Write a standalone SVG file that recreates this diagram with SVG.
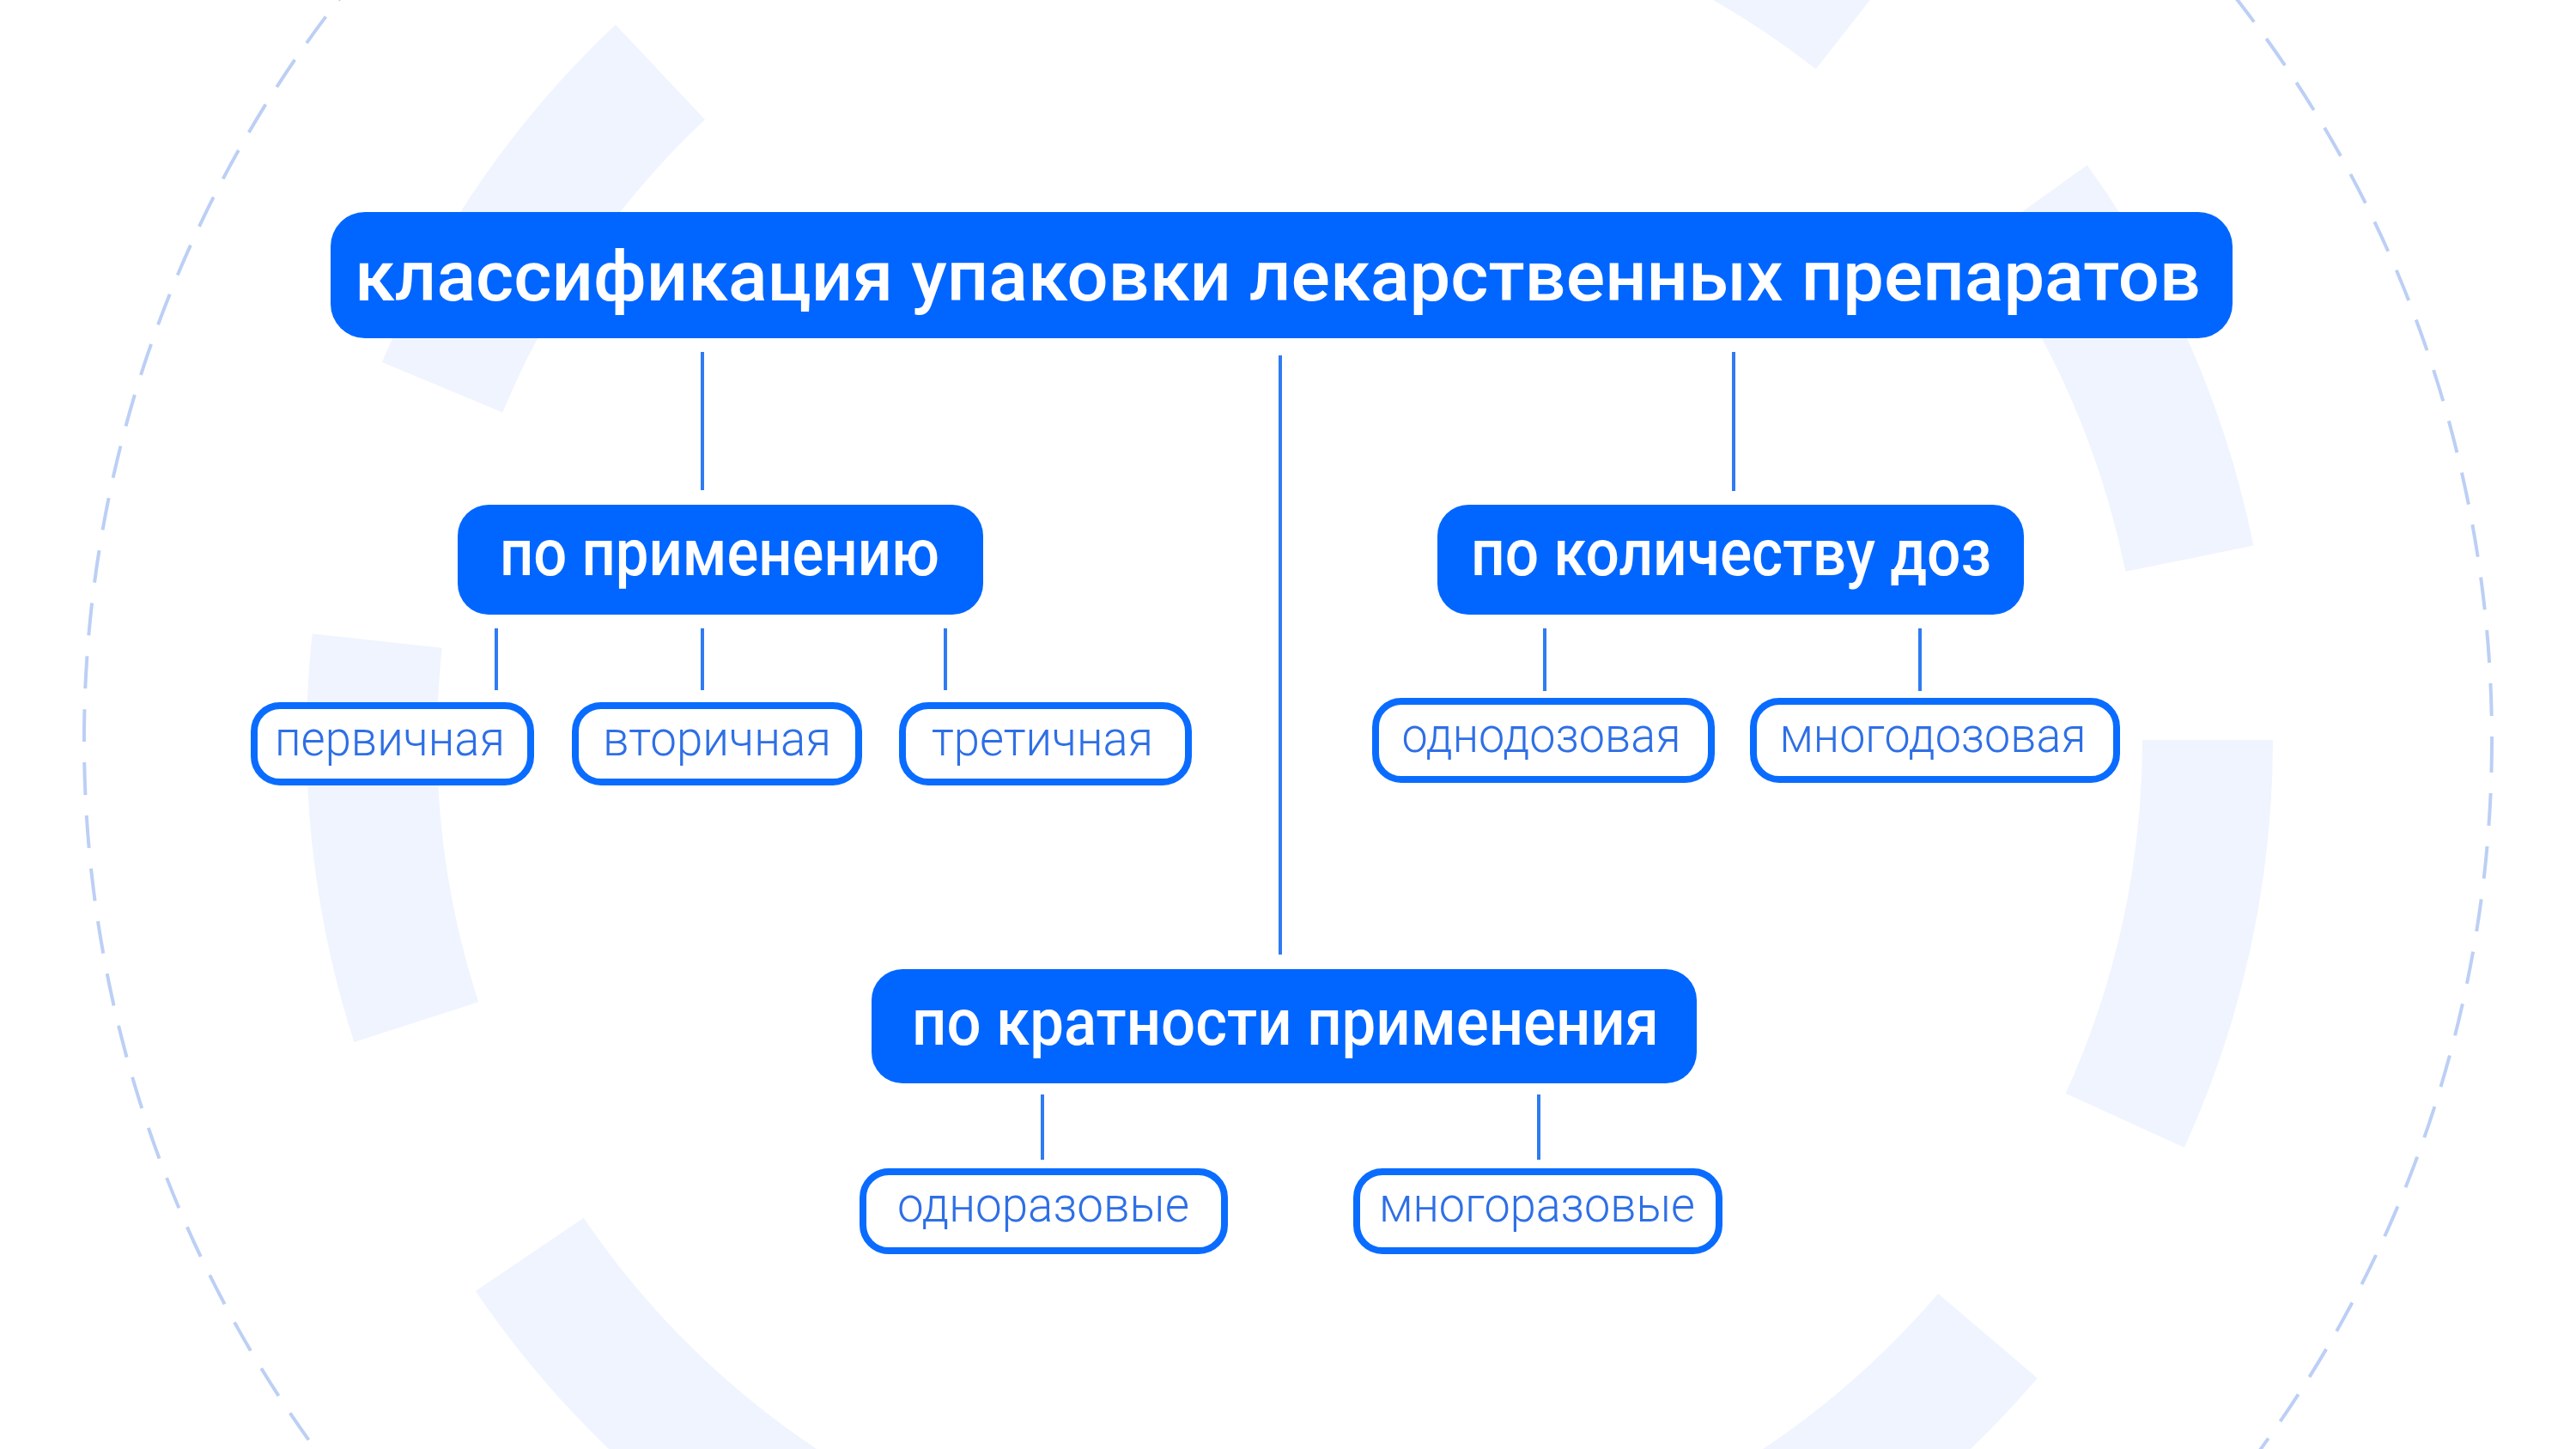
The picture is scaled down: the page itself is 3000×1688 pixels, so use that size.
<svg xmlns="http://www.w3.org/2000/svg" width="3000" height="1688" viewBox="0 0 3000 1688">
<style>
.bg{fill:#EFF4FE}
.ring{fill:none;stroke:#BCCFF5;stroke-width:4;stroke-dasharray:38 24}
.main{fill:#0066FF}
.sub{fill:#FFFFFF;stroke:#0A6CFF;stroke-width:8}
.conn line{stroke:#2F7BF2;stroke-width:4}
.t1{font-family:Roboto,"Liberation Sans",sans-serif;font-weight:500;fill:#FFFFFF;text-anchor:middle}
.t2{font-family:Roboto,"Liberation Sans",sans-serif;font-weight:300;fill:#2E6FE6;text-anchor:middle;font-size:57px}
</style>
<rect x="0" y="0" width="3000" height="1688" fill="#FFFFFF"/>
<g id="background">
<path class="bg" d="M1773.2,-250.5 A1145,1145 0 0 1 2208.5,-39 L2114.7,80.6 A993,993 0 0 0 1737.2,-102.8 Z"/>
<path class="bg" d="M2430.7,192.2 A1145,1145 0 0 1 2624.4,635.6 L2475.4,665.7 A993,993 0 0 0 2307.4,281.1 Z"/>
<path class="bg" d="M2647,862 A1145,1145 0 0 1 2543.9,1336.8 L2405.6,1273.8 A993,993 0 0 0 2495,862 Z"/>
<path class="bg" d="M2372.7,1605.6 A1145,1145 0 0 1 1987.7,1898.9 L1923.2,1761.3 A993,993 0 0 0 2257.1,1506.9 Z"/>
<path class="bg" d="M903.7,1838.2 A1145,1145 0 0 1 553.8,1503.9 L679.7,1418.7 A993,993 0 0 0 983.2,1708.6 Z"/>
<path class="bg" d="M412.4,1214 A1145,1145 0 0 1 363.7,738.3 L514.8,754.8 A993,993 0 0 0 557.1,1167.3 Z"/>
<path class="bg" d="M444.9,422 A1145,1145 0 0 1 716.8,28.7 L821,139.3 A993,993 0 0 0 585.3,480.4 Z"/>
<circle class="ring" cx="1500" cy="862" r="1402"/>
</g>
<g id="connectors" class="conn">
<line x1="818" y1="410" x2="818" y2="571"/>
<line x1="2019" y1="410" x2="2019" y2="572"/>
<line x1="1491" y1="414" x2="1491" y2="1112"/>
<line x1="578" y1="732" x2="578" y2="804"/>
<line x1="818" y1="732" x2="818" y2="804"/>
<line x1="1101" y1="732" x2="1101" y2="804"/>
<line x1="1799" y1="732" x2="1799" y2="805"/>
<line x1="2236" y1="732" x2="2236" y2="805"/>
<line x1="1214" y1="1275" x2="1214" y2="1351"/>
<line x1="1792" y1="1275" x2="1792" y2="1351"/>
</g>
<g id="title">
<rect class="main" x="385" y="247" width="2215" height="147" rx="40"/>
<text class="t1" x="1488" y="350" font-size="82" textLength="2150" lengthAdjust="spacingAndGlyphs">классификация упаковки лекарственных препаратов</text>
</g>
<g id="po-primeneniyu">
<rect class="main" x="533" y="588" width="612" height="128" rx="36"/>
<text class="t1" x="838" y="670" font-size="76" textLength="512" lengthAdjust="spacingAndGlyphs">по применению</text>
</g>
<g id="po-kolichestvu-doz">
<rect class="main" x="1674" y="588" width="683" height="128" rx="36"/>
<text class="t1" x="2016" y="670" font-size="76" textLength="606" lengthAdjust="spacingAndGlyphs">по количеству доз</text>
</g>
<g id="po-kratnosti">
<rect class="main" x="1015" y="1129" width="961" height="133" rx="36"/>
<text class="t1" x="1497" y="1217" font-size="76" textLength="870" lengthAdjust="spacingAndGlyphs">по кратности применения</text>
</g>
<g id="pervichnaya">
<rect class="sub" x="296" y="822" width="322" height="89" rx="30"/>
<text class="t2" x="454" y="880" textLength="268" lengthAdjust="spacingAndGlyphs">первичная</text>
</g>
<g id="vtorichnaya">
<rect class="sub" x="670" y="822" width="330" height="89" rx="30"/>
<text class="t2" x="835" y="880" textLength="266" lengthAdjust="spacingAndGlyphs">вторичная</text>
</g>
<g id="tretichnaya">
<rect class="sub" x="1051" y="822" width="333" height="89" rx="30"/>
<text class="t2" x="1214" y="880" textLength="258" lengthAdjust="spacingAndGlyphs">третичная</text>
</g>
<g id="odnodozovaya">
<rect class="sub" x="1602" y="817" width="391" height="91" rx="30"/>
<text class="t2" x="1795" y="876" textLength="325" lengthAdjust="spacingAndGlyphs">однодозовая</text>
</g>
<g id="mnogodozovaya">
<rect class="sub" x="2042" y="817" width="423" height="91" rx="30"/>
<text class="t2" x="2251" y="876" textLength="357" lengthAdjust="spacingAndGlyphs">многодозовая</text>
</g>
<g id="odnorazovye">
<rect class="sub" x="1005" y="1365" width="421" height="92" rx="30"/>
<text class="t2" x="1215" y="1423" textLength="340" lengthAdjust="spacingAndGlyphs">одноразовые</text>
</g>
<g id="mnogorazovye">
<rect class="sub" x="1580" y="1365" width="422" height="92" rx="30"/>
<text class="t2" x="1790" y="1423" textLength="368" lengthAdjust="spacingAndGlyphs">многоразовые</text>
</g>
</svg>
